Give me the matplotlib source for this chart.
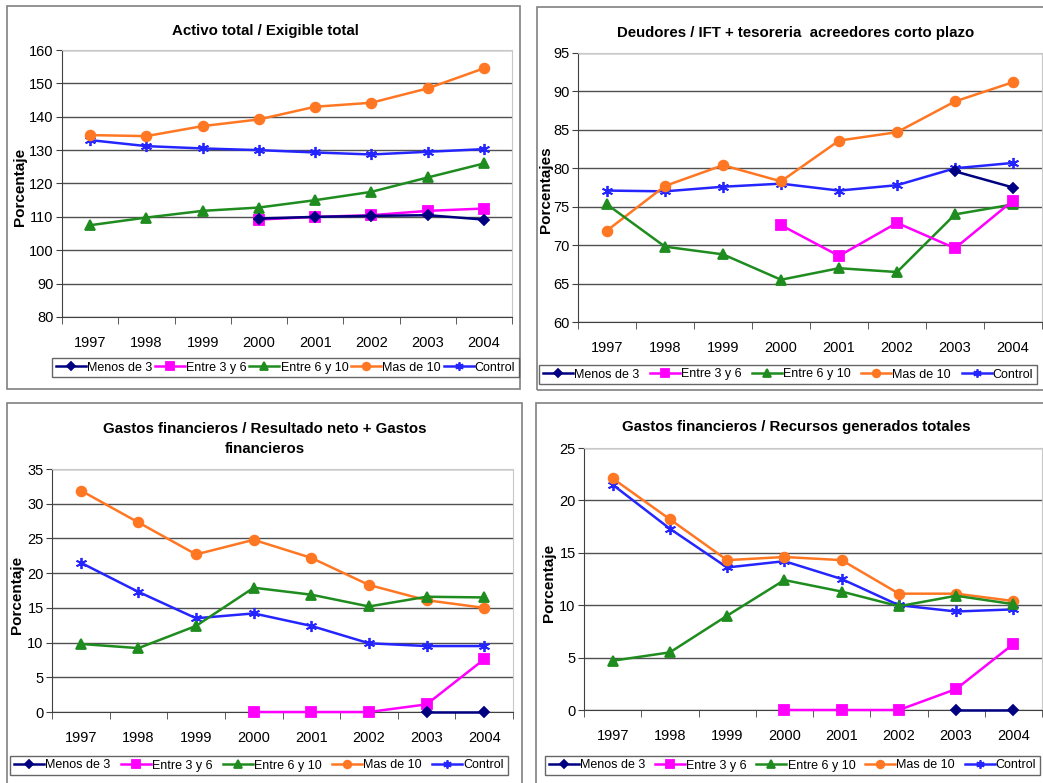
import matplotlib.pyplot as plt
import matplotlib.patches as mpatches
from matplotlib.ticker import FixedLocator, NullFormatter
import numpy as np

plt.rcParams['font.family'] = ['Liberation Sans', 'DejaVu Sans']

years = ['1997', '1998', '1999', '2000', '2001', '2002', '2003', '2004']
series_names = ['Menos de 3', 'Entre 3 y 6', 'Entre 6 y 10', 'Mas de 10', 'Control']

# Activo total / Exigible total
act_menos3 = [None, None, None, 109.5, 110.0, 110.3, 110.5, 109.2]
act_e3y6 = [None, None, None, 109.2, 110.0, 110.5, 111.8, 112.5]
act_e6y10 = [107.5, 109.8, 111.8, 112.8, 115.0, 117.5, 121.8, 126.0]
act_mas10 = [134.5, 134.2, 137.2, 139.2, 143.0, 144.2, 148.5, 154.5]
act_control = [133.0, 131.2, 130.5, 130.0, 129.3, 128.7, 129.5, 130.3]

# Deudores / IFT + tesoreria acreedores corto plazo
deu_menos3 = [None, None, None, None, None, None, 79.6, 77.5]
deu_e3y6 = [None, None, None, 72.6, 68.6, 72.9, 69.6, 75.8]
deu_e6y10 = [75.3, 69.8, 68.8, 65.5, 67.0, 66.5, 74.0, 75.3]
deu_mas10 = [71.9, 77.7, 80.4, 78.3, 83.6, 84.7, 88.7, 91.2]
deu_control = [77.1, 77.0, 77.6, 78.0, 77.1, 77.8, 80.0, 80.7]

# Gastos financieros / Resultado neto + Gastos financieros
gfr_menos3 = [None, None, None, None, None, None, 0.0, 0.0]
gfr_e3y6 = [None, None, None, 0.0, 0.0, 0.0, 1.1, 7.6]
gfr_e6y10 = [9.8, 9.2, 12.4, 17.9, 16.9, 15.2, 16.6, 16.5]
gfr_mas10 = [31.9, 27.3, 22.7, 24.8, 22.2, 18.3, 16.1, 15.0]
gfr_control = [21.5, 17.3, 13.5, 14.2, 12.4, 9.9, 9.5, 9.5]

# Gastos financieros / Recursos generados totales
gfg_menos3 = [None, None, None, None, None, None, 0.0, 0.0]
gfg_e3y6 = [None, None, None, 0.0, 0.0, 0.0, 2.0, 6.3]
gfg_e6y10 = [4.7, 5.5, 9.0, 12.4, 11.3, 9.9, 10.9, 10.1]
gfg_mas10 = [22.1, 18.2, 14.3, 14.6, 14.3, 11.1, 11.1, 10.4]
gfg_control = [21.5, 17.3, 13.6, 14.2, 12.5, 10.0, 9.4, 9.6]

colors = ['#000080', '#FF00FF', '#1E8C1E', '#FF7722', '#2525FF']
markers = ['D', 's', '^', 'o', (6, 2, 0)]
msizes = [5, 7, 7, 7, 8]
leg_msizes = [4, 5.5, 5.5, 5.5, 6]

W, H = 1043, 783
fig = plt.figure(figsize=(W / 100, H / 100), dpi=100)


def px_axes(x0, y0, x1, y1):
    return fig.add_axes([x0 / W, 1 - y1 / H, (x1 - x0) / W, (y1 - y0) / H])


def frame(x0, y0, x1, y1):
    fig.patches.append(mpatches.Rectangle((x0 / W, 1 - y1 / H), (x1 - x0) / W, (y1 - y0) / H,
                                          transform=fig.transFigure, fill=False,
                                          edgecolor='#808080', lw=1.2))


def panel(box, data, ylim, step, title, title_xy, ylab, ylab_xy, leg_box):
    ax = px_axes(*box)
    x = np.arange(len(years))
    handles = []
    for i, vals in enumerate(data):
        y = np.array([np.nan if v is None else v for v in vals], dtype=float)
        h, = ax.plot(x, y, color=colors[i], marker=markers[i], ms=msizes[i], lw=1.8,
                     mew=1.3, mec=colors[i], mfc=colors[i], label=series_names[i],
                     clip_on=False, zorder=3 + (4 - i) * 0.1)
        handles.append(h)
    ax.set_xlim(-0.5, len(years) - 0.5)
    ax.set_ylim(*ylim)
    ax.set_yticks(np.arange(ylim[0], ylim[1] + 0.1, step))
    ax.yaxis.grid(True, color='#505050', lw=1.0)
    ax.set_axisbelow(True)
    ax.set_xticks(x)
    ax.set_xticklabels(years)
    ax.xaxis.set_minor_locator(FixedLocator(np.arange(-0.5, len(years), 1.0)))
    ax.xaxis.set_minor_formatter(NullFormatter())
    ax.tick_params(axis='x', which='major', length=0, pad=14, labelsize=10.5)
    ax.tick_params(axis='x', which='minor', length=5, color='#404040')
    ax.tick_params(axis='y', length=4, color='#404040', labelsize=10.5, pad=2)
    for s in ['top', 'right']:
        ax.spines[s].set_color('#c8c8c8')
    for s in ['left', 'bottom']:
        ax.spines[s].set_color('#404040')
    fig.text(title_xy[0] / W, 1 - title_xy[1] / H, title, ha='center', va='center',
             fontsize=10.8, fontweight='bold', linespacing=1.6)
    fig.text(ylab_xy[0] / W, 1 - ylab_xy[1] / H, ylab, ha='center', va='center',
             rotation=90, fontsize=11, fontweight='bold')
    lx0, ly0, lx1, ly1 = leg_box
    leg = fig.legend(handles=handles, loc='center', ncol=5, mode='expand',
                     bbox_to_anchor=(lx0 / W, 1 - ly1 / H, (lx1 - lx0) / W, (ly1 - ly0) / H),
                     fontsize=9, frameon=True, fancybox=False, handlelength=2.4,
                     handletextpad=0.1, columnspacing=0.3, borderpad=0.3,
                     borderaxespad=0)
    leg.get_frame().set_edgecolor('#404040')
    leg.get_frame().set_linewidth(1.0)
    for lh, ms in zip(leg.legend_handles, leg_msizes):
        lh.set_markersize(ms)
    return ax


frame(7, 6, 520, 389)
frame(537, 7, 1050, 390)
frame(7, 403, 522, 790)
frame(536, 403, 1050, 790)

panel((62, 50, 512, 317),
      [act_menos3, act_e3y6, act_e6y10, act_mas10, act_control],
      (80, 160), 10, 'Activo total / Exigible total', (265, 31),
      'Porcentaje', (20, 187), (52, 357, 519, 378))

panel((578, 53, 1042, 322),
      [deu_menos3, deu_e3y6, deu_e6y10, deu_mas10, deu_control],
      (60, 95), 5, 'Deudores / IFT + tesoreria  acreedores corto plazo', (796, 33),
      'Porcentajes', (546, 190), (539, 362, 1037, 387))

panel((52, 469, 513, 712),
      [gfr_menos3, gfr_e3y6, gfr_e6y10, gfr_mas10, gfr_control],
      (0, 35), 5, 'Gastos financieros / Resultado neto + Gastos\nfinancieros', (265, 439),
      'Porcentaje', (17, 595), (10, 753, 508, 778))

panel((584, 448, 1042, 710),
      [gfg_menos3, gfg_e3y6, gfg_e6y10, gfg_mas10, gfg_control],
      (0, 25), 5, 'Gastos financieros / Recursos generados totales', (796, 427),
      'Porcentaje', (549, 583), (545, 753, 1040, 778))

fig.savefig('out.png', dpi=100)
